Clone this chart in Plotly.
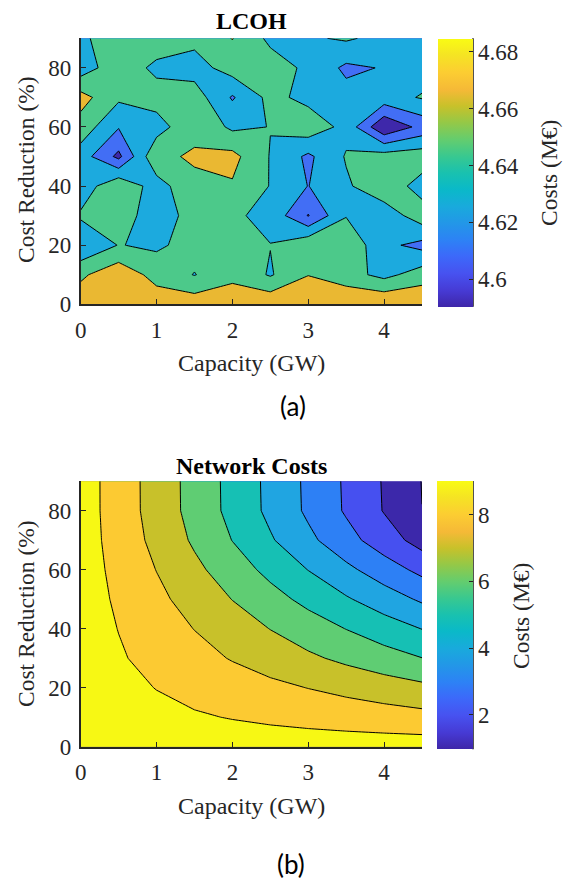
import plotly.graph_objects as go

# ---------------- data ----------------
capacity = [0, 0.5, 1, 1.5, 2, 2.5, 3, 3.5, 4, 4.5]          # GW
reduction = [0, 10, 20, 30, 40, 50, 60, 70, 80, 90]           # %
x_ticks = [0, 1, 2, 3, 4]
y_ticks = [0, 20, 40, 60, 80]

# LCOH (M€), rows = cost reduction, columns = capacity
lcoh = [
    [4.6772, 4.6790, 4.6772, 4.6772, 4.6773, 4.6809, 4.6828, 4.6838, 4.6838, 4.6828],
    [4.6624, 4.6789, 4.6589, 4.6462, 4.6611, 4.6451, 4.6653, 4.6545, 4.6413, 4.6564],
    [4.6300, 4.6477, 4.6436, 4.6545, 4.6564, 4.6474, 4.6628, 4.6624, 4.6326, 4.6225],
    [4.6498, 4.6564, 4.6368, 4.6543, 4.6503, 4.6411, 4.6083, 4.6460, 4.6357, 4.6574],
    [4.6349, 4.6635, 4.6377, 4.6634, 4.6640, 4.6462, 4.6277, 4.6442, 4.6602, 4.6385],
    [4.6377, 4.6045, 4.6635, 4.6672, 4.6715, 4.6460, 4.6243, 4.6485, 4.6558, 4.6583],
    [4.6583, 4.6294, 4.6381, 4.6628, 4.6432, 4.6474, 4.6592, 4.6411, 4.5923, 4.6153],
    [4.6728, 4.6504, 4.6558, 4.6564, 4.6262, 4.6526, 4.6413, 4.6351, 4.6394, 4.6485],
    [4.6366, 4.6592, 4.6423, 4.6387, 4.6558, 4.6564, 4.6430, 4.6243, 4.6293, 4.6377],
    [4.6451, 4.6526, 4.6591, 4.6524, 4.6664, 4.6426, 4.6445, 4.6494, 4.6413, 4.6394],
]
lcoh_level_start = 4.60926
lcoh_level_step = 0.01886
lcoh_level_end = 4.66584
lcoh_cbar_range = [4.5904, 4.6847]
lcoh_cbar_ticks = [4.6, 4.62, 4.64, 4.66, 4.68]
lcoh_cbar_text = ["4.6", "4.62", "4.64", "4.66", "4.68"]

# Network costs (M€)
network = [
    [9.48, 9.48, 9.48, 9.48, 9.48, 9.48, 9.48, 9.48, 9.48, 9.48],
    [9.48, 9.35, 9.22, 9.09, 8.96, 8.83, 8.70, 8.57, 8.44, 8.31],
    [9.48, 9.23, 8.98, 8.73, 8.48, 8.23, 7.98, 7.73, 7.48, 7.23],
    [9.48, 9.095, 8.71, 8.325, 7.94, 7.555, 7.17, 6.785, 6.40, 6.015],
    [9.48, 8.98, 8.48, 7.98, 7.48, 6.98, 6.48, 5.98, 5.48, 4.98],
    [9.48, 8.855, 8.23, 7.605, 6.98, 6.355, 5.73, 5.105, 4.48, 3.855],
    [9.48, 8.73, 7.98, 7.23, 6.48, 5.73, 4.98, 4.23, 3.48, 2.73],
    [9.48, 8.605, 7.73, 6.855, 5.98, 5.105, 4.23, 3.355, 2.48, 1.605],
    [9.48, 8.539, 7.597, 6.656, 5.714, 4.773, 3.831, 2.890, 1.948, 1.007],
    [9.48, 8.535, 7.59, 6.645, 5.70, 4.755, 3.81, 2.865, 1.92, 0.975],
]
net_level_start = 1
net_level_step = 1
net_level_end = 9
net_cbar_range = [0.975, 9.0]
net_cbar_ticks = [2, 4, 6, 8]
net_cbar_text = ["2", "4", "6", "8"]

# ---------------- styles ----------------
W, H = 565, 879
def px(x):
    return x / W
def py(y):
    return 1 - y / H

SERIF = "Liberation Serif"
AXC = "#262626"
TICK_SIZE = 23

lcoh_fill_colors = ["#3E28AA", "#426EF5", "#1CAADE", "#4CC98A", "#EAB832"]
net_fill_colors = ["#3C28AA", "#3C28AA", "#4650F0", "#2D80F5", "#20A5E1",
                   "#16C0B4", "#5FCD73", "#C8C12A", "#FCCA32", "#F7F814"]

parula = [
    [0.0, "rgb(62,38,168)"], [0.06, "rgb(70,58,212)"], [0.125, "rgb(71,82,240)"],
    [0.19, "rgb(60,105,250)"], [0.25, "rgb(45,130,245)"], [0.31, "rgb(35,150,232)"],
    [0.375, "rgb(25,170,220)"], [0.44, "rgb(10,185,200)"], [0.5, "rgb(25,193,175)"],
    [0.56, "rgb(55,200,145)"], [0.625, "rgb(100,205,110)"], [0.69, "rgb(150,200,70)"],
    [0.75, "rgb(200,193,42)"], [0.81, "rgb(245,185,55)"], [0.875, "rgb(252,205,50)"],
    [0.94, "rgb(245,228,35)"], [1.0, "rgb(249,251,20)"],
]

def stepscale(colors):
    n = len(colors) - 1
    return [[i / n, c] for i, c in enumerate(colors)]

fig = go.Figure()

def add_panel(z, start, step, end, fills, xa, ya, cbr, cbt, cbtext, cb_x, cb_thick, cb_top, cb_bot):
    fig.add_trace(go.Contour(
        x=capacity, y=reduction, z=z, xaxis=xa, yaxis=ya,
        autocontour=False,
        contours=dict(start=start, end=end, size=step, coloring="fill", showlines=True),
        line=dict(color="black", width=1, smoothing=0),
        colorscale=stepscale(fills), showscale=False, hoverinfo="skip",
    ))
    fig.add_trace(go.Scatter(
        x=[capacity[0]], y=[reduction[0]], xaxis=xa, yaxis=ya, mode="markers",
        hoverinfo="skip", showlegend=False,
        marker=dict(size=1, opacity=0, color=[cbr[0]], cmin=cbr[0], cmax=cbr[1],
                    colorscale=parula, showscale=True,
                    colorbar=dict(
                        x=px(cb_x), xanchor="left", xpad=0,
                        y=py((cb_top + cb_bot) / 2), yanchor="middle", ypad=0,
                        len=cb_bot - cb_top, lenmode="pixels",
                        thickness=cb_thick, thicknessmode="pixels",
                        outlinewidth=0, ticks="inside", ticklen=4, tickwidth=1.3,
                        tickcolor=AXC, tickvals=cbt, ticktext=cbtext,
                        tickfont=dict(family=SERIF, size=TICK_SIZE, color=AXC),
                    )),
    ))
    fig.add_shape(type="line", xref="paper", yref="paper",
                  x0=px(cb_x + cb_thick), x1=px(cb_x + cb_thick),
                  y0=py(cb_top), y1=py(cb_bot), line=dict(color=AXC, width=1.6))

add_panel(lcoh, lcoh_level_start, lcoh_level_step, lcoh_level_end, lcoh_fill_colors,
          "x", "y", lcoh_cbar_range, lcoh_cbar_ticks, lcoh_cbar_text, 438, 35, 38.3, 306.7)
add_panel(network, net_level_start, net_level_step, net_level_end, net_fill_colors,
          "x2", "y2", net_cbar_range, net_cbar_ticks, net_cbar_text, 437, 36, 481.0, 749.3)

def xaxis_cfg(dom, anchor):
    return dict(domain=dom, anchor=anchor, range=[0, 4.5], tickvals=x_ticks,
                ticks="inside", ticklen=5, tickwidth=1.3, tickcolor=AXC,
                showline=True, linecolor=AXC, linewidth=1.8, mirror=False,
                showgrid=False, zeroline=False, ticklabelstandoff=4,
                tickfont=dict(family=SERIF, size=TICK_SIZE, color=AXC))

def yaxis_cfg(dom, anchor):
    return dict(domain=dom, anchor=anchor, range=[0, 90], tickvals=y_ticks,
                ticks="inside", ticklen=5, tickwidth=1.3, tickcolor=AXC,
                showline=True, linecolor=AXC, linewidth=1.8, mirror=False,
                showgrid=False, zeroline=False, ticklabelstandoff=3,
                tickfont=dict(family=SERIF, size=TICK_SIZE, color=AXC))

xdom = [px(80.7), px(422)]
fig.update_layout(
    width=W, height=H, autosize=False,
    margin=dict(l=0, r=0, t=0, b=0, autoexpand=False),
    paper_bgcolor="white", plot_bgcolor="white", showlegend=False,
    xaxis=xaxis_cfg(xdom, "y"),
    yaxis=yaxis_cfg([py(304.3), py(38.3)], "x"),
    xaxis2=xaxis_cfg(xdom, "y2"),
    yaxis2=yaxis_cfg([py(746.7), py(481.2)], "x2"),
)

def ann(text, x, y, size, family=SERIF, bold=False, angle=0, color=AXC):
    fig.add_annotation(text=("<b>%s</b>" % text) if bold else text,
                       x=px(x), y=py(y), xref="paper", yref="paper",
                       xanchor="center", yanchor="middle", showarrow=False,
                       textangle=angle, font=dict(family=family, size=size, color=color))

ann("LCOH", 251, 21, 24, bold=True, color="black")
ann("Network Costs", 251, 466, 24, bold=True, color="black")
ann("Capacity (GW)", 251, 363, 24)
ann("Capacity (GW)", 251, 806, 24)
ann("Cost Reduction (%)", 26, 170, 23.5, angle=-90)
ann("Cost Reduction (%)", 26, 614, 23.5, angle=-90)
ann("Costs (M€)", 549, 173, 23.5, angle=-90)
ann("Costs (M€)", 521, 616, 23.5, angle=-90)
ann("(a)", 293, 406, 26, family="Lato", color="black")
ann("(b)", 291, 864, 26, family="Lato", color="black")

fig.write_html("out.html")
